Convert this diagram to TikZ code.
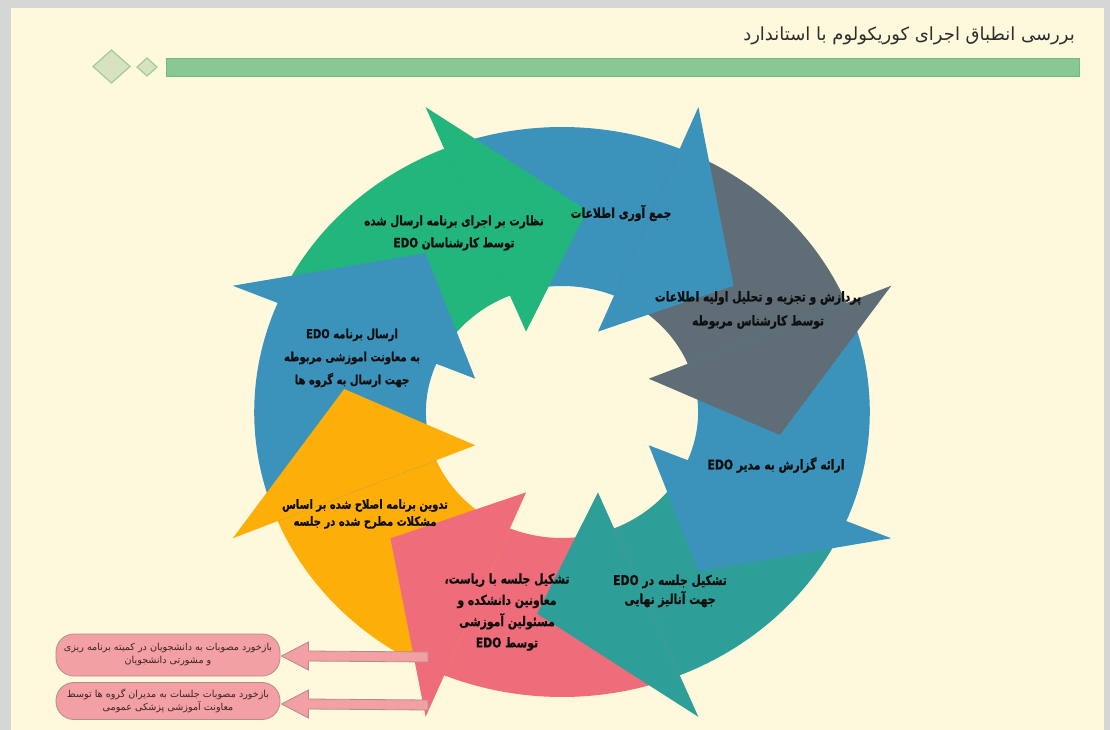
\documentclass[tikz,border=0pt]{standalone}
\usepackage{fontspec}
\TeXXeTstate=1
\newfontfamily\fa[Script=Arabic]{DejaVu Sans}
\newfontfamily\fab[Script=Arabic,FakeStretch=0.8,FakeBold=0.8]{DejaVu Sans}
\usetikzlibrary{calc}
\definecolor{cream}{RGB}{254,249,221}
\definecolor{frame}{RGB}{214,214,214}
\definecolor{agreen}{RGB}{34,182,124}
\definecolor{ablue}{RGB}{59,147,188}
\definecolor{agray}{RGB}{94,109,118}
\definecolor{ateal}{RGB}{46,158,153}
\definecolor{apink}{RGB}{239,109,122}
\definecolor{aorange}{RGB}{253,174,8}
\definecolor{barfill}{RGB}{135,200,150}
\definecolor{barline}{RGB}{118,184,132}
\definecolor{dfill}{RGB}{214,226,192}
\definecolor{dline}{RGB}{160,204,150}
\definecolor{fbfill}{RGB}{242,160,163}
\definecolor{fbline}{RGB}{180,140,140}
\definecolor{txt}{RGB}{15,15,15}
\definecolor{titletxt}{RGB}{45,45,45}
\definecolor{fbtxt}{RGB}{60,35,35}
\begin{document}
\begin{tikzpicture}[x=1pt,y=-1pt,
  lbl/.style={font=\fab\bfseries\fontsize{13.5}{22}\selectfont, text=txt, align=center, inner sep=0pt},
  fbbox/.style={draw=fbline, fill=fbfill, line width=0.8pt, rounded corners=18pt, minimum width=224pt,
     align=center, inner sep=0pt, font=\fa\fontsize{9.6}{13}\selectfont, text=fbtxt},
  fbarrow/.style={draw=fbline, fill=fbfill, line width=0.8pt, line join=miter},
  diam/.style={draw=dline, fill=dfill, line width=1.2pt}
]
\useasboundingbox (0,0) rectangle (1110,730);
% slide
\fill[frame] (0,0) rectangle (1110,730);
\fill[cream] (11,8) rectangle (1104,730);

% title
\node[font=\fa\fontsize{18}{20}\selectfont, text=titletxt, anchor=east, inner sep=0pt] (title) at (1075,36)
  {\beginR بررسی انطباق اجرای کوریکولوم با استاندارد\endR};
% bar and diamonds
\draw[barline, fill=barfill, line width=1pt] (166,59) rectangle (1079,77);
\draw[diam] (111.5,50) -- (130,66.5) -- (111.5,83) -- (93,66.5) -- cycle;
\draw[diam] (147,58) -- (157,67) -- (147,76) -- (137,67) -- cycle;

% ring of arrows
\begin{scope}[shift={(562,412)}, xscale=1.08, yscale=-1]
  \foreach \b/\c in {112.5/agreen, 67.5/ablue, 22.5/agray, -22.5/ablue, -67.5/ateal, -112.5/apink, -157.5/aorange, 157.5/ablue} {
    \pgfmathsetmacro\bs{\b-1.5}
    \pgfmathsetmacro\be{\b+45}
    \fill[\c] plot[domain=\bs:\be, samples=40] (\x:285) -- plot[domain=\be:\bs, samples=40] (\x:126) -- cycle;
  }
  \foreach \b/\c in {112.5/agreen, 67.5/ablue, 22.5/agray, -22.5/ablue, -67.5/ateal, -112.5/apink, -157.5/aorange, 157.5/ablue} {
    \pgfmathsetmacro\bt{\b-29}
    \fill[\c] (\b:330) -- (\bt:203) -- (\b:87) -- cycle;
  }
\end{scope}

% labels
\node[lbl, font=\fab\bfseries\fontsize{13}{22}\selectfont] (tgreen) at (454,233) {\beginR نظارت بر اجرای برنامه ارسال شده\endR\\\beginR توسط کارشناسان \beginL EDO\endL\endR};
\node[lbl] (tbluetop) at (621,213) {\beginR جمع آوری اطلاعات\endR};
\node[lbl, font=\fab\bfseries\fontsize{13.5}{24}\selectfont] (tgray) at (758,310) {\beginR پردازش و تجزیه و تحلیل اولیه اطلاعات\endR\\\beginR توسط کارشناس مربوطه\endR};
\node[lbl] (tblueright) at (776,465) {\beginR ارائه گزارش به مدیر \beginL EDO\endL\endR};
\node[lbl, font=\fab\bfseries\fontsize{13.5}{19}\selectfont] (tteal) at (670,591) {\beginR تشکیل جلسه در \beginL EDO\endL\endR\\\beginR جهت آنالیز نهایی\endR};
\node[lbl, font=\fab\bfseries\fontsize{13.5}{21.3}\selectfont] (tpink) at (507,612) {\beginR تشکیل جلسه با ریاست،\endR\\\beginR معاونین دانشکده و\endR\\\beginR مسئولین آموزشی\endR\\\beginR توسط \beginL EDO\endL\endR};
\node[lbl, font=\fab\bfseries\fontsize{12.5}{17}\selectfont] (torange) at (365,514) {\beginR تدوین برنامه اصلاح شده بر اساس\endR\\\beginR مشکلات مطرح شده در جلسه\endR};
\node[lbl, font=\fab\bfseries\fontsize{12.5}{23}\selectfont] (tblueleft) at (352,358) {\beginR ارسال برنامه \beginL EDO\endL\endR\\\beginR به معاونت اموزشی مربوطه\endR\\\beginR جهت ارسال به گروه ها\endR};

% feedback boxes
\node[fbbox, minimum height=42pt] (fb1) at (168,655) {\beginR بازخورد مصوبات به دانشجویان در کمیته برنامه ریزی\endR\\\beginR و مشورتی دانشجویان\endR};
\node[fbbox, minimum height=37pt] (fb2) at (168,701) {\beginR بازخورد مصوبات جلسات به مدیران گروه ها توسط\endR\\\beginR معاونت آموزشی پزشکی عمومی\endR};
\coordinate (s1) at (428,657);
\coordinate (s2) at (428,705);
\draw[fbarrow] ($(fb1.east)+(1,1)$) -- ++(27,-14) -- ++(0,9) -- ($(s1)+(0,-5)$) -- ($(s1)+(0,5)$) -- ($(fb1.east)+(28,6)$) -- ++(0,9) -- cycle;
\draw[fbarrow] ($(fb2.east)+(1,3)$) -- ++(27,-14) -- ++(0,9) -- ($(s2)+(0,-5)$) -- ($(s2)+(0,5)$) -- ($(fb2.east)+(28,8)$) -- ++(0,9) -- cycle;
\end{tikzpicture}
\end{document}
